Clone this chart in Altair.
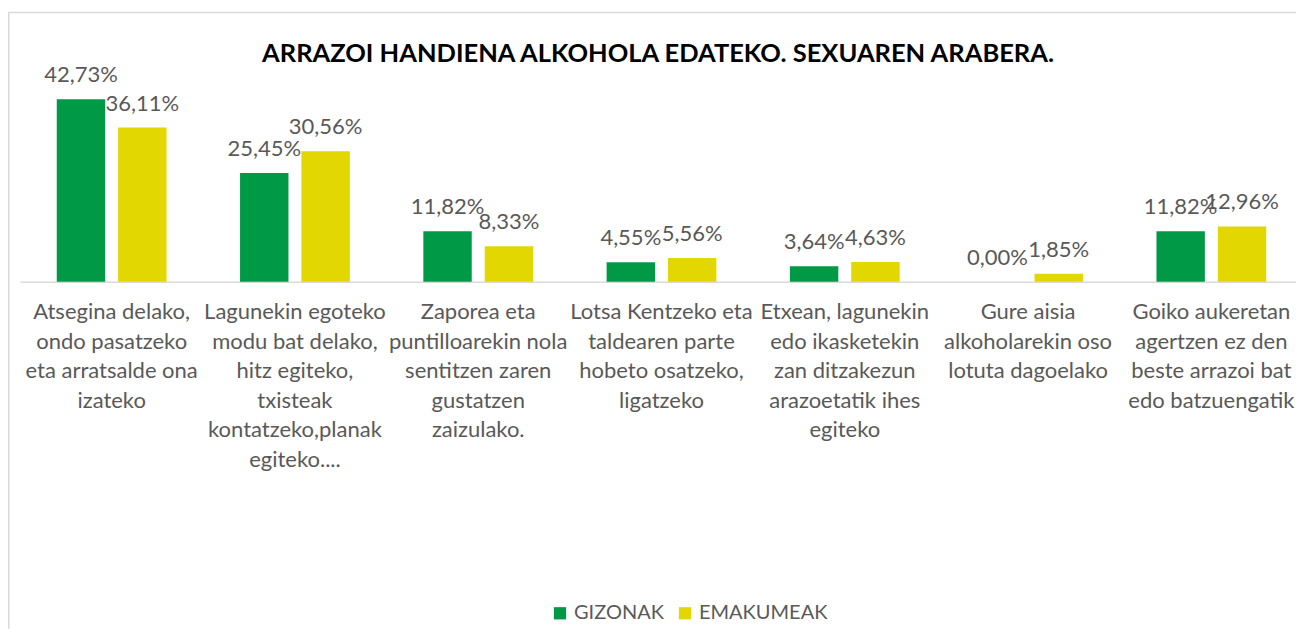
import altair as alt
import pandas as pd

categories = [
    "Atsegina delako,\nondo pasatzeko\neta arratsalde ona\nizateko",
    "Lagunekin egoteko\nmodu bat delako,\nhitz egiteko,\ntxisteak\nkontatzeko,planak\negiteko....",
    "Zaporea eta\npuntilloarekin nola\nsentitzen zaren\ngustatzen\nzaizulako.",
    "Lotsa Kentzeko eta\ntaldearen parte\nhobeto osatzeko,\nligatzeko",
    "Etxean, lagunekin\nedo ikasketekin\nzan ditzakezun\narazoetatik ihes\negiteko",
    "Gure aisia\nalkoholarekin oso\nlotuta dagoelako",
    "Goiko aukeretan\nagertzen ez den\nbeste arrazoi bat\nedo batzuengatik",
]
series = ["GIZONAK", "EMAKUMEAK"]
gizonak = [42.73, 25.45, 11.82, 4.55, 3.64, 0.00, 11.82]
emakumeak = [36.11, 30.56, 8.33, 5.56, 4.63, 1.85, 12.96]
colors = ["#009A47", "#E2D700"]
title = "ARRAZOI HANDIENA ALKOHOLA EDATEKO. SEXUAREN ARABERA."

rows = []
for i, c in enumerate(categories):
    rows.append({"cat": c, "serie": series[0], "value": gizonak[i]})
    rows.append({"cat": c, "serie": series[1], "value": emakumeak[i]})
df = pd.DataFrame(rows)

FONT = "Lato"
GRAY = "#595959"

base = alt.Chart(df).transform_calculate(
    label="replace(format(datum.value, '.2f'), '.', ',') + '%'"
).encode(
    x=alt.X(
        "cat:N",
        sort=categories,
        scale=alt.Scale(range=[0, 1283], paddingInner=0, paddingOuter=0),
        axis=alt.Axis(
            title=None,
            labelAngle=0,
            labelExpr="split(datum.value, '\\n')",
            labelFont=FONT,
            labelFontSize=22,
            labelColor=GRAY,
            labelLineHeight=29.5,
            labelBaseline="top",
            labelPadding=20,
            labelLimit=0,
            ticks=False,
            domainColor="#D9D9D9",
            domainWidth=1.5,
            labelOverlap=False,
        ),
    ),
    xOffset=alt.XOffset(
        "serie:N",
        sort=series,
        scale=alt.Scale(paddingInner=0.211, paddingOuter=0.599),
    ),
    y=alt.Y("value:Q", scale=alt.Scale(domain=[0, 50]), axis=None),
)

bars = base.mark_bar().encode(
    color=alt.Color(
        "serie:N",
        sort=series,
        scale=alt.Scale(domain=series, range=colors),
        legend=alt.Legend(
            title=None,
            orient="none",
            legendX=530,
            legendY=535,
            direction="horizontal",
            symbolType="square",
            symbolSize=150,
            symbolStrokeWidth=0,
            labelFont=FONT,
            labelFontSize=20,
            labelColor=GRAY,
            labelOffset=4,
            columnPadding=11,
            padding=0,
        ),
    )
)

texts = base.mark_text(
    baseline="alphabetic", dy=-17, font=FONT, fontSize=22, color=GRAY
).encode(text="label:N")

border = alt.Chart(pd.DataFrame({"a": [0]})).mark_rect(
    fill=None, stroke="#D9D9D9", strokeWidth=1.5
).encode(
    x=alt.value(-11.3),
    x2=alt.value(3000),
    y=alt.value(-55.8),
    y2=alt.value(3000),
)

chart = alt.layer(border, bars, texts).properties(
    width=1276,
    height=213.4,
    autosize=alt.AutoSizeParams(type="none"),
    padding={"left": 12, "top": 60.3, "right": 0, "bottom": 347},
    title=alt.TitleParams(
        title,
        font=FONT,
        fontSize=25.5,
        fontWeight="bold",
        color="#000000",
        anchor="middle",
        offset=5,
        dy=61,
    ),
).configure_view(stroke=None)

chart.save("out.html", embed_options={"renderer": "svg", "actions": False})
